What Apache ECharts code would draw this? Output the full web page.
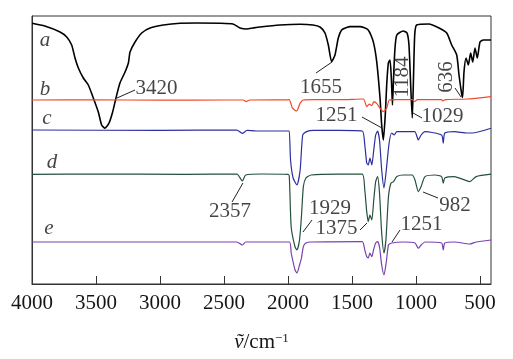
<!DOCTYPE html>
<html><head><meta charset="utf-8">
<script src="https://cdn.jsdelivr.net/npm/echarts@6/dist/echarts.min.js"></script>
<style>html,body{margin:0;padding:0;background:#fff}#c{width:513px;height:359px}</style>
</head><body><div id="c"></div>
<script>
// Wavenumber (cm^-1) and offset transmittance (a.u.) for each trace
const waveA = [4000,3900,3781,3729,3690,3664,3638,3599,3560,3521,3482,3456,3430,3398,3370,3344,3313,3273,3247,3234,3195,3143,3078,2974,2844,2714,2531,2430,2375,2323,2273,2219,2063,1906,1805,1750,1711,1685,1659,1633,1607,1581,1542,1516,1437,1373,1334,1307,1281,1268,1255,1240,1229,1216,1203,1192,1184,1176,1165,1150,1100,1070,1055,1040,1029,1020,1010,995,900,820,760,721,682,664,643,636,625,609,591,573,557,539,521,500,474,414];
const traceA = [130.4,129,126,123.5,119.5,113,108,103,99.5,93,86,79.5,77.9,80.5,86,93,100.5,106,110.5,116,121,125.5,128,129.5,130.4,130.5,130.4,130,128,127.5,128,128.5,129.5,129.9,129.5,128.5,125.5,119.5,111.2,114.5,123,127,128.2,128.7,128.7,127,121.2,111.2,93,79.5,72,84.5,99.5,110.5,112,102,89.5,102,117,124.5,126.5,125.5,119.5,97,83,102,124.5,129.5,130,128,125.5,119.5,114.5,104.5,95,93.3,106,113,109.5,115.5,111,118,113,121,122,122];

const waveB = [4000,3500,3000,2500,2350,2327,2300,2000,1990,1965,1932,1906,1880,1800,1600,1411,1385,1365,1346,1328,1307,1281,1255,1229,1208,1150,1030,1008,990,800,790,770,600,414];
const traceB = [92,92.1,91.9,92,92,91.2,92,92.1,92.2,87.9,86.5,90.3,92,92.2,92.2,92.5,88.7,89.9,89.2,91.2,90.3,87.9,86.2,87.9,92,92.2,92.2,91.2,92.2,92.2,91.5,92.2,92.5,93.7];

const waveC = [4000,3000,2400,2357,2320,2250,2000,1990,1980,1960,1930,1905,1885,1855,1800,1600,1420,1400,1385,1373,1360,1345,1330,1315,1300,1285,1268,1250,1232,1210,1190,1170,1150,1010,982,960,930,800,787,775,700,600,560,414];
const traceC = [77,76.8,77,75.3,76.8,76.5,76.5,76.5,62,53,49.5,57,74.5,76.2,76.8,76.8,76.5,69.5,60.5,59.5,63,59.5,67,74.5,76.5,72,57,48,57,70.5,75.5,74.5,76.2,76.2,72,74.5,76.2,74.5,70.4,75.5,76.2,75.5,75.5,77.9];

const waveD = [4000,3500,2800,2400,2357,2330,2200,2000,1990,1975,1945,1930,1910,1895,1880,1860,1820,1600,1420,1400,1385,1373,1360,1345,1330,1315,1300,1285,1268,1250,1235,1215,1196,1175,1150,1100,1030,1008,982,960,930,850,800,787,775,700,580,530,414];
const traceD = [54.8,55,54.8,55,51.5,54.5,55,54.8,54,28.5,18.5,17,22,33.7,48.7,53,54.5,54.9,54.9,47,36.2,31.2,34.5,32,42,51.2,53.7,45.5,25.5,15.5,22,43.7,50.4,51.2,53.7,54.5,54.5,52,46.2,48.7,53.7,54.5,53.7,50.4,53,53.7,51.2,53.7,54.9];

const waveE = [4000,2400,2357,2330,1990,1975,1945,1930,1910,1895,1880,1860,1820,1420,1400,1385,1373,1360,1345,1330,1315,1300,1285,1268,1250,1232,1215,1190,1100,1008,982,960,930,800,787,775,700,580,530,414];
const traceE = [21,21,19.5,21,21,15.5,7,5.5,9.5,13,18.7,20.5,21,21.2,17,13.7,13,15.5,13.7,17.5,20.5,21.2,18.5,9.5,4.5,11,19.5,20.5,21,20.5,17.9,19.5,21,20.5,17,20.5,21,20,21,22];

const tickLabels = [4000,3500,3000,2500,2000,1500,1000,500];

// trace letters [text, wavenumber, value]
const traceLetters = [['a',3898,122],['b',3898,97.5],['c',3883,83],['d',3844,61],['e',3867,28]];
// peak annotations: [text, wavenumber, value, rotate]
const peakTexts = [['3420',3027,98,0],['1655',1742,98.5,0],['1184',1102,103.5,90],['636',758,103.5,90],['1251',1621,84.5,0],['1029',793,84,0],['2357',2453,36.5,0],['982',695,39.5,0],['1929',1672,38,0],['1375',1621,28,0],['1251',957,30,0]];
// leader lines [[x1,y1],[x2,y2]]
const leaders = [
  [[3336,93],[3195,97]],
  [[1656,111],[1781,105.5]],
  [[695,98],[648,93.5]],
  [[1422,83.5],[1266,78]],
  [[1023,85.5],[953,83]],
  [[2352,50.5],[2437,41]],
  [[945,46],[828,43]],
  [[1883,26],[1812,32]],
  [[1437,27],[1383,30.5]],
  [[1187,21],[1125,27]]
];

const zip = (xs, ys) => xs.map((x, i) => [x, ys[i]]);
const serif = '"Liberation Serif","DejaVu Serif",serif';
const ink = '#151515';

const traces = [
  {name:'a', x:waveA, y:traceA, color:'#000000', w:1.6},
  {name:'b', x:waveB, y:traceB, color:'#f04a2c', w:1.2},
  {name:'c', x:waveC, y:traceC, color:'#2c2f9e', w:1.2},
  {name:'d', x:waveD, y:traceD, color:'#24503c', w:1.2},
  {name:'e', x:waveE, y:traceE, color:'#7a40b0', w:1.2}
];

const series = traces.map(t => ({
  type:'line', name:t.name, data:zip(t.x, t.y), showSymbol:false, smooth:0.2,
  lineStyle:{color:t.color, width:t.w}, silent:true, z:2
}));

series.push({
  type:'lines', coordinateSystem:'cartesian2d', polyline:false, silent:true, z:3,
  lineStyle:{color:'#222', width:1, opacity:1},
  data: leaders.map(l => ({coords:l}))
});

series.push({
  type:'scatter', symbolSize:0, silent:true, z:4,
  data: peakTexts.map(p => ({value:[p[1],p[2]], label:{show:true, formatter:p[0], rotate:p[3]}})),
  label:{show:true, position:'inside', color:ink, fontFamily:serif, fontSize:21}
});

series.push({
  type:'scatter', symbolSize:0, silent:true, z:4,
  data: traceLetters.map(p => ({value:[p[1],p[2]], label:{show:true, formatter:p[0]}})),
  label:{show:true, position:'inside', color:ink, fontFamily:serif, fontStyle:'italic', fontSize:21}
});

const chart = echarts.init(document.getElementById('c'), null, {renderer:'canvas'});
chart.setOption({
  animation:false,
  backgroundColor:'#fff',
  grid:{left:32, right:22, top:16, bottom:75, show:true, borderColor:'#333', borderWidth:1, backgroundColor:'transparent'},
  xAxis:{
    type:'value', inverse:true, min:414, max:4000,
    axisLine:{show:true, lineStyle:{color:'#333', width:1}},
    axisTick:{show:true, inside:true, length:8, customValues:tickLabels, lineStyle:{color:'#333'}},
    axisLabel:{customValues:tickLabels, formatter:v => String(v), color:ink, fontFamily:serif, fontSize:21, margin:9},
    splitLine:{show:false},
    name:'{i|ṽ}{n|/cm}{s|−1}', nameLocation:'middle', nameGap:48,
    nameTextStyle:{rich:{
      i:{fontFamily:serif, fontStyle:'italic', fontSize:21, color:ink},
      n:{fontFamily:serif, fontSize:21, color:ink},
      s:{fontFamily:serif, fontSize:13, color:ink, verticalAlign:'top', padding:[0,0,8,0]}
    }}
  },
  yAxis:{
    type:'value', min:0, max:134,
    axisLine:{show:true, lineStyle:{color:'#333'}}, axisTick:{show:false}, axisLabel:{show:false}, splitLine:{show:false}
  },
  series:series
});
</script></body></html>
